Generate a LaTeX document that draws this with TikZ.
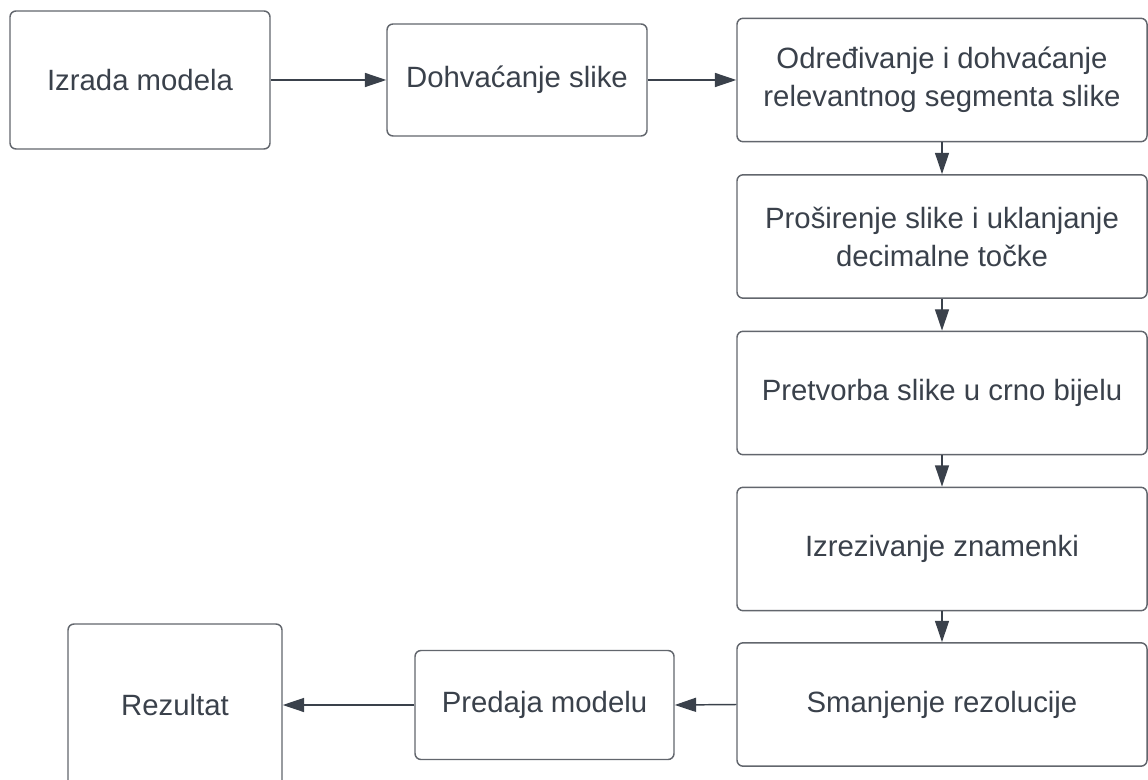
\documentclass[tikz,border=0pt]{standalone}
\usepackage{fontspec}
\setmainfont{Liberation Sans}
\usetikzlibrary{arrows.meta}

\definecolor{rub}{HTML}{62666D}
\definecolor{tekst}{HTML}{3A414B}

\tikzset{
  korak/.style={draw=rub, line width=1.1pt, rounded corners=4.5pt, fill=white,
    inner sep=0pt, align=center, text=tekst,
    font=\fontsize{22}{28.5}\selectfont},
  strelica/.style={draw=tekst, line width=1.1pt,
    -{Triangle[length=16pt,width=10.5pt]}}
}

\begin{document}
\begin{tikzpicture}[x=0.75pt,y=-0.75pt]
\clip (0,0) rectangle (1148,780);

% gornji red
\node[korak, minimum width=195pt, minimum height=103.5pt] (izrada) at (140,80) {Izrada modela};
\node[korak, minimum width=195pt, minimum height=84pt] (dohvat) at (517,80) {\raisebox{3pt}{Dohvaćanje slike}};

% desni stupac
\node[korak, minimum width=307.5pt, minimum height=92.5pt] (s3) at (942,80) {Određivanje i dohvaćanje\\relevantnog segmenta slike};
\node[korak, minimum width=307.5pt, minimum height=92.5pt] (s4) at (942,236.5) {Proširenje slike i uklanjanje\\decimalne točke};
\node[korak, minimum width=307.5pt, minimum height=92.5pt] (s5) at (942,393) {Pretvorba slike u crno bijelu};
\node[korak, minimum width=307.5pt, minimum height=92.5pt] (s6) at (942,549) {Izrezivanje znamenki};
\node[korak, minimum width=307.5pt, minimum height=92.5pt] (s7) at (942,704.5) {Smanjenje rezolucije};

% donji red
\node[korak, minimum width=194.25pt, minimum height=81.75pt] (predaja) at (544.5,705) {\raisebox{2pt}{Predaja modelu}};
\node[korak, minimum width=160.5pt, minimum height=121.5pt] (rezultat) at (175,705) {Rezultat};

\draw[strelica] (izrada) -- (dohvat);
\draw[strelica] (dohvat) -- (s3);
\foreach \a/\b in {s3/s4,s4/s5,s5/s6,s6/s7} {
\draw[strelica] (\a) -- (\b);
}
\draw[strelica] (s7.west) -- (predaja.east);
\draw[strelica] (predaja.west) -- (rezultat.east);
\end{tikzpicture}
\end{document}
